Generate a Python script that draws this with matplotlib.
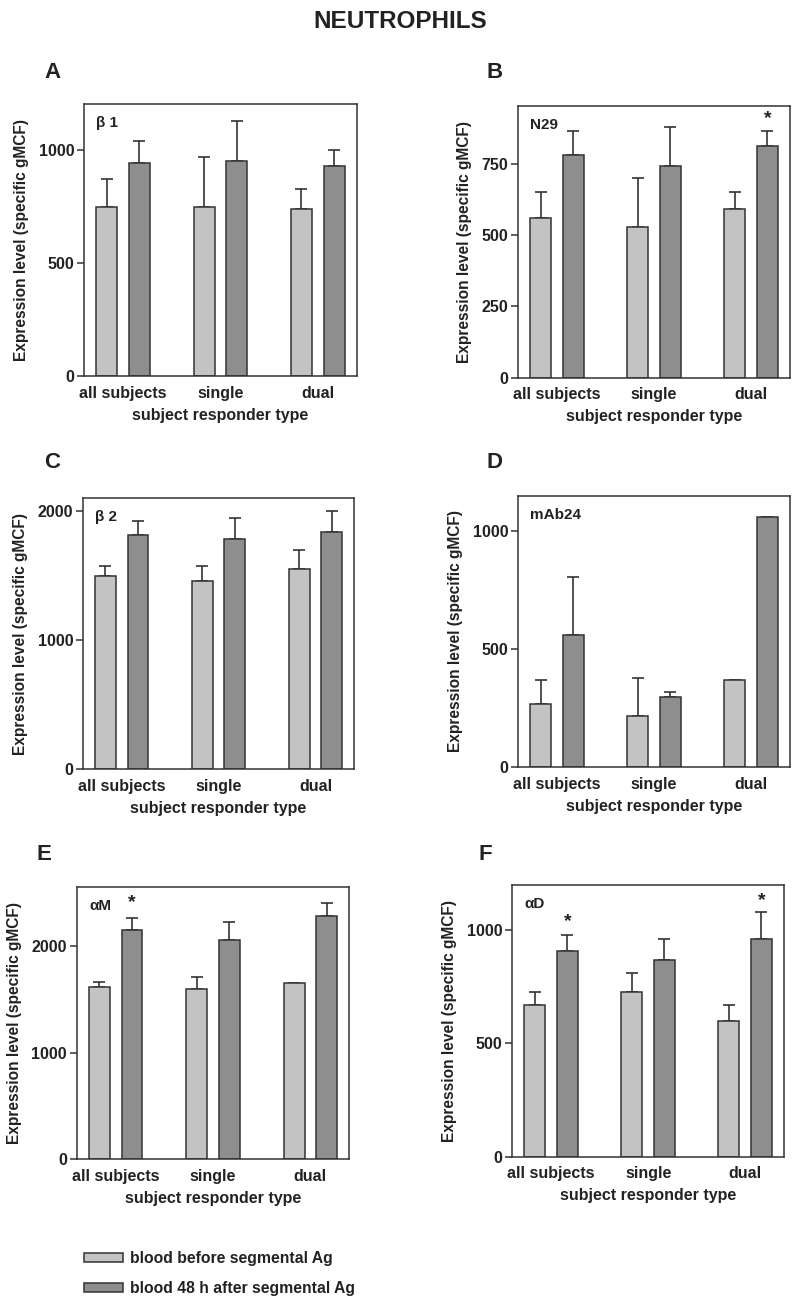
import numpy as np
import matplotlib
matplotlib.use("Agg")
import matplotlib.pyplot as plt
from matplotlib.patches import Patch

plt.rcParams["font.family"] = ["Liberation Sans", "DejaVu Sans"]
plt.rcParams["font.weight"] = "bold"

groups = ["all subjects", "single", "dual"]
series_labels = ["blood before segmental Ag", "blood 48 h after segmental Ag"]

# values (upper error bar tips given as top values)
b1_before = [750, 750, 739]
b1_before_top = [871, 970, 830]
b1_after = [941, 951, 929]
b1_after_top = [1041, 1130, 1000]

n29_before = [560, 529, 590]
n29_before_top = [650, 701, 650]
n29_after = [781, 741, 811]
n29_after_top = [863, 880, 863]

b2_before = [1498, 1460, 1548]
b2_before_top = [1576, 1576, 1698]
b2_after = [1811, 1780, 1840]
b2_after_top = [1920, 1948, 2000]

mab24_before = [267, 216, 369]
mab24_before_top = [369, 377, np.nan]
mab24_after = [559, 298, 1058]
mab24_after_top = [806, 318, np.nan]

am_before = [1621, 1602, 1653]
am_before_top = [1668, 1712, np.nan]
am_after = [2153, 2062, 2282]
am_after_top = [2263, 2225, 2404]

ad_before = [670, 729, 599]
ad_before_top = [729, 810, 669]
ad_after = [910, 870, 960]
ad_after_top = [978, 960, 1081]

light = "#c3c3c3"
dark = "#8e8e8e"
edge = "#333333"
txt = "#222222"

panels = [
    # letter, marker, before, before_top, after, after_top, ylim top, ticks, stars (group, y), rect, letter pos
    ("A", "β 1", b1_before, b1_before_top, b1_after, b1_after_top, 1204, [0, 500, 1000], [],
     [0.105, 0.7112, 0.341, 0.2089], (44, 73)),
    ("B", "N29", n29_before, n29_before_top, n29_after, n29_after_top, 952, [0, 250, 500, 750], [(2, 907)],
     [0.6475, 0.7099, 0.340, 0.2087], (486, 73)),
    ("C", "β 2", b2_before, b2_before_top, b2_after, b2_after_top, 2102, [0, 1000, 2000], [],
     [0.10375, 0.4091, 0.339, 0.2086], (44, 462)),
    ("D", "mAb24", mab24_before, mab24_before_top, mab24_after, mab24_after_top, 1150, [0, 500, 1000], [],
     [0.6475, 0.4109, 0.340, 0.2084], (486, 462)),
    ("E", "αM", am_before, am_before_top, am_after, am_after_top, 2554, [0, 1000, 2000], [(0, 2407)],
     [0.0959, 0.1096, 0.3408, 0.2089], (37, 855)),
    ("F", "αD", ad_before, ad_before_top, ad_after, ad_after_top, 1200, [0, 500, 1000], [(0, 1040), (2, 1130)],
     [0.6404, 0.1116, 0.3396, 0.2087], (478, 855)),
]

fig = plt.figure(figsize=(8, 13.02), dpi=100)
fig.text(0.5, 1 - 22 / 1302, "NEUTROPHILS", ha="center", va="center",
         fontsize=17.5, fontweight="bold", color=txt)

x = np.arange(len(groups))
off = 0.168
w = 0.215

for letter, marker, bef, bef_top, aft, aft_top, ytop, ticks, stars, rect, lpos in panels:
    ax = fig.add_axes(rect)
    bef = np.array(bef, float)
    aft = np.array(aft, float)
    ax.bar(x - off, bef, w, color=light, edgecolor=edge, linewidth=1.1, zorder=2)
    ax.bar(x + off, aft, w, color=dark, edgecolor=edge, linewidth=1.1, zorder=2)
    ax.errorbar(x - off, bef, yerr=[np.zeros(3), np.array(bef_top) - bef], fmt="none",
                ecolor=edge, elinewidth=1.2, capsize=4.5, capthick=1.2, zorder=1)
    ax.errorbar(x + off, aft, yerr=[np.zeros(3), np.array(aft_top) - aft], fmt="none",
                ecolor=edge, elinewidth=1.2, capsize=4.5, capthick=1.2, zorder=1)
    for g, ys in stars:
        ax.text(g + off, ys, "*", ha="center", va="center", fontsize=14,
                fontweight="bold", color=txt)
    ax.text(0.045, 0.93, marker, transform=ax.transAxes, ha="left", va="center",
            fontsize=11, fontweight="bold", color=txt)
    ax.set_xlim(-0.4, 2.4)
    ax.set_ylim(0, ytop)
    ax.set_yticks(ticks)
    ax.set_yticklabels([str(t) for t in ticks])
    ax.set_xticks(x)
    ax.set_xticklabels(groups)
    ax.tick_params(axis="x", length=0, pad=7, labelsize=11.5, labelcolor=txt)
    ax.tick_params(axis="y", length=5, width=1.1, direction="out", labelsize=11.5,
                   pad=2, labelcolor=txt, color=edge)
    for s in ax.spines.values():
        s.set_linewidth(1.1)
        s.set_color(edge)
    ax.set_ylabel("Expression level (specific gMCF)", fontsize=11.2,
                  fontweight="bold", color=txt, labelpad=7)
    ax.set_xlabel("subject responder type", fontsize=11.5, fontweight="bold",
                  color=txt, labelpad=5)
    fig.text(lpos[0] / 800, 1 - lpos[1] / 1302, letter, ha="left", va="center",
             fontsize=16, fontweight="bold", color=txt)

handles = [Patch(facecolor=light, edgecolor=edge, linewidth=1.1),
           Patch(facecolor=dark, edgecolor=edge, linewidth=1.1)]
fig.legend(handles, series_labels, loc="upper left",
           bbox_to_anchor=(70 / 800, 1 - 1237 / 1302), frameon=False,
           fontsize=11.3, handlelength=2.5, handleheight=0.45,
           labelspacing=0.95, handletextpad=0.45, labelcolor=txt)

fig.savefig("out.png", dpi=100)
